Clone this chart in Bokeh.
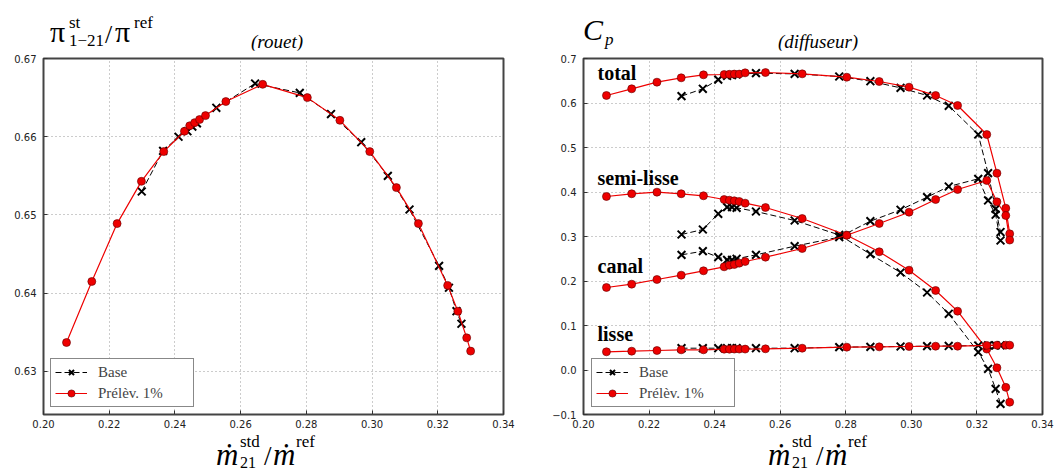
from bokeh.plotting import figure
from bokeh.models import Range1d, FixedTicker, Label, Legend, LegendItem, Div
from bokeh.layouts import row, column
from bokeh.embed import file_html
from bokeh.resources import INLINE

# ---------------- data ----------------
x_prel = [0.2070, 0.2147, 0.2224, 0.2298, 0.2366, 0.2429, 0.2445, 0.2460, 0.2475, 0.2493,
          0.2555, 0.2667, 0.2803, 0.2902, 0.2993, 0.3074, 0.3141, 0.3230, 0.3261, 0.3288, 0.3300]
x_base = [0.2299, 0.2364, 0.2411, 0.2438, 0.2453, 0.2467, 0.2526, 0.2644, 0.2780, 0.2875,
          0.2967, 0.3048, 0.3114, 0.3204, 0.3234, 0.3257, 0.3272]

pi_prel = [0.6337, 0.6415, 0.6489, 0.6543, 0.6581, 0.6607, 0.6614, 0.6618, 0.6622, 0.6627,
           0.6645, 0.6667, 0.6650, 0.6621, 0.6581, 0.6535, 0.6489, 0.6410, 0.6377, 0.6343, 0.6326]
pi_base = [0.6530, 0.6582, 0.6600, 0.6607, 0.6613, 0.6617, 0.6637, 0.6668, 0.6656, 0.6629,
           0.6593, 0.6550, 0.6507, 0.6435, 0.6407, 0.6377, 0.6361]

cp_total_prel = [0.6169, 0.6319, 0.6468, 0.6566, 0.6633, 0.6640, 0.6645, 0.6650, 0.6650, 0.6678,
                 0.6685, 0.6655, 0.6580, 0.6483, 0.6356, 0.6169, 0.5944, 0.5292, 0.4423, 0.3636, 0.3060]
cp_semi_prel = [0.3899, 0.3960, 0.3996, 0.3960, 0.3915, 0.3831, 0.3816, 0.3802, 0.3787, 0.3749,
                0.3652, 0.3404, 0.3029, 0.2656, 0.2243, 0.1787, 0.1322, 0.0470, 0.0050, -0.0390, -0.0723]
cp_canal_prel = [0.1854, 0.1929, 0.2034, 0.2131, 0.2229, 0.2319, 0.2356, 0.2371, 0.2401, 0.2438,
                 0.2535, 0.2730, 0.3029, 0.3292, 0.3546, 0.3831, 0.4056, 0.4258, 0.3780, 0.3472, 0.2920]
cp_lisse_prel = [0.0409, 0.0423, 0.0438, 0.0453, 0.0453, 0.0468, 0.0468, 0.0470, 0.0470, 0.0470,
                 0.0476, 0.0490, 0.0513, 0.0520, 0.0528, 0.0535, 0.0535, 0.0553, 0.0558, 0.0558, 0.0558]

cp_total_base = [0.6155, 0.6319, 0.6525, 0.6610, 0.6627, 0.6640, 0.6670, 0.6655, 0.6596, 0.6490,
                 0.6340, 0.6169, 0.5937, 0.5292, 0.4423, 0.3620, 0.3100]
cp_semi_base = [0.3045, 0.3157, 0.3510, 0.3659, 0.3660, 0.3645, 0.3562, 0.3360, 0.3035, 0.2603,
                0.2191, 0.1742, 0.1263, 0.0400, 0.0027, -0.0423, -0.0760]
cp_canal_base = [0.2588, 0.2670, 0.2535, 0.2476, 0.2476, 0.2500, 0.2588, 0.2782, 0.2985, 0.3344,
                 0.3600, 0.3884, 0.4124, 0.4296, 0.3810, 0.3490, 0.2910]
cp_lisse_base = [0.0490, 0.0490, 0.0490, 0.0490, 0.0490, 0.0490, 0.0490, 0.0490, 0.0513, 0.0520,
                 0.0528, 0.0535, 0.0540, 0.0550, 0.0553, 0.0553, 0.0553]

x_ticks = [0.20, 0.22, 0.24, 0.26, 0.28, 0.30, 0.32, 0.34]
x_tick_labels = ["0.20", "0.22", "0.24", "0.26", "0.28", "0.30", "0.32", "0.34"]
pi_ticks = [0.63, 0.64, 0.65, 0.66, 0.67]
pi_tick_labels = ["0.63", "0.64", "0.65", "0.66", "0.67"]
cp_ticks = [-0.1, 0.0, 0.1, 0.2, 0.3, 0.4, 0.5, 0.6, 0.7]
cp_tick_labels = ["\u22120.1", "0.0", "0.1", "0.2", "0.3", "0.4", "0.5", "0.6", "0.7"]

legend_names = ["Base", "Pr\u00e9l\u00e8v. 1%"]
curve_names = ["total", "semi-lisse", "canal", "lisse"]

SERIF = "Liberation Serif"
RED = "#ee0000"

TOP_H = 50
FIG_H = 384
BOT_H = 39


def style_fig(p, yticks, ylabels):
    p.xaxis.ticker = FixedTicker(ticks=x_ticks)
    p.xaxis.major_label_overrides = dict(zip(x_ticks, x_tick_labels))
    p.yaxis.ticker = FixedTicker(ticks=yticks)
    p.yaxis.major_label_overrides = dict(zip(yticks, ylabels))
    for ax in (p.xaxis[0], p.yaxis[0]):
        ax.axis_line_color = None
        ax.major_tick_in = 4
        ax.major_tick_out = 0
        ax.major_tick_line_color = "#333"
        ax.minor_tick_line_color = None
        ax.major_label_text_font = "DejaVu Sans"
        ax.major_label_text_font_size = "10px"
        ax.major_label_text_color = "#222"
    p.xaxis.major_label_standoff = 5
    p.yaxis.major_label_standoff = 7
    p.grid.grid_line_color = "#999"
    p.grid.grid_line_dash = "1 3"
    p.grid.grid_line_width = 1
    p.outline_line_color = "#444"
    p.outline_line_width = 2
    p.background_fill_color = "white"
    p.border_fill_color = "white"


def pair(p, xb, yb, xp, yp):
    lb = p.line(xb, yb, line_color="black", line_dash="6 3", line_width=1)
    sb = p.scatter(xb, yb, marker="x", size=11, line_color="black", line_width=2)
    lp = p.line(xp, yp, line_color=RED, line_width=1.2)
    sp = p.scatter(xp, yp, marker="circle", size=8, fill_color=RED, line_color="#600000", line_width=0.6)
    return lb, sb, lp, sp


def add_legend(p, rs, loc):
    lb, sb, lp, sp = rs
    leg = Legend(items=[LegendItem(label=legend_names[0], renderers=[lb, sb]),
                        LegendItem(label=legend_names[1], renderers=[lp, sp])],
                 location=loc, margin=0, padding=4, spacing=3,
                 glyph_width=32, glyph_height=18, label_height=18, label_width=91,
                 label_standoff=11, label_text_font=SERIF, label_text_font_size="15px",
                 border_line_color="#111", border_line_width=1.5,
                 background_fill_color="white", background_fill_alpha=1)
    p.add_layout(leg)


def span(x, baseline, text, size, style="", align="left"):
    top = baseline - 0.84 * size
    tr = "transform:translateX(-50%);" if align == "center" else ""
    return (f'<span style="position:absolute;left:{x}px;top:{top:.1f}px;'
            f'font-family:\'{SERIF}\',serif;'
            f'font-size:{size}px;line-height:1;white-space:nowrap;color:black;{style}{tr}">{text}</span>')


def block(w, h, parts):
    return f'<div style="position:relative;width:{w}px;height:{h}px;overflow:visible;">' + "".join(parts) + "</div>"


# ---------------- left panel ----------------
p1 = figure(width=538, height=FIG_H, output_backend="svg", toolbar_location=None,
            x_range=Range1d(0.20, 0.34), y_range=Range1d(0.6245, 0.67),
            min_border_left=43, min_border_right=35, min_border_top=8, min_border_bottom=20)
style_fig(p1, pi_ticks, pi_tick_labels)
rs1 = pair(p1, x_base, pi_base, x_prel, pi_prel)
add_legend(p1, rs1, (7, 7))

# ---------------- right panel ----------------
p2 = figure(width=517, height=FIG_H, output_backend="svg", toolbar_location=None,
            x_range=Range1d(0.20, 0.34), y_range=Range1d(-0.1, 0.7),
            min_border_left=45, min_border_right=13, min_border_top=8, min_border_bottom=20)
style_fig(p2, cp_ticks, cp_tick_labels)
rs2 = pair(p2, x_base, cp_total_base, x_prel, cp_total_prel)
pair(p2, x_base, cp_semi_base, x_prel, cp_semi_prel)
pair(p2, x_base, cp_canal_base, x_prel, cp_canal_prel)
pair(p2, x_base, cp_lisse_base, x_prel, cp_lisse_prel)
add_legend(p2, rs2, (8, 7))

# curve names (screen offsets from the right frame's bottom-left corner)
for name, dy in zip(curve_names, [342, 237, 149, 81]):
    p2.add_layout(Label(x=14, y=dy, x_units="screen", y_units="screen", text=name,
                        text_font=SERIF, text_font_size="20px", text_font_style="bold",
                        text_baseline="alphabetic", text_color="black"))

# ---------------- texts around the frames ----------------
it = "font-style:italic;"
top_parts = [
    span(50, 42, "\u03c0", 30),
    span(69, 28, "st", 17),
    span(69, 46, "1\u221221", 17),
    span(105, 44, "/", 26),
    span(115, 42, "\u03c0", 30),
    span(134, 28, "ref", 17),
    span(277, 48, "(rouet)", 19, it, "center"),
    span(583, 40, "C", 30, it),
    span(605, 45, "p", 17, it),
    span(818, 48, "(diffuseur)", 19, it, "center"),
]
bot_parts = []
for x0 in (216, 768):
    bot_parts += [
        span(x0, 465 - 434, "\u1e41", 31, it),
        span(x0 + 24, 447 - 434, "std", 17),
        span(x0 + 24, 468 - 434, "21", 16),
        span(x0 + 48, 466 - 434, "/", 27),
        span(x0 + 57, 465 - 434, "\u1e41", 31, it),
        span(x0 + 80, 447 - 434, "ref", 17),
    ]

top_div = Div(text=block(1055, TOP_H, top_parts), width=1055, height=TOP_H, margin=0)
bot_div = Div(text=block(1055, BOT_H, bot_parts), width=1055, height=BOT_H, margin=0)

layout = column(top_div, row(p1, p2), bot_div, spacing=0)
open("out.html", "w").write(file_html(layout, INLINE))
